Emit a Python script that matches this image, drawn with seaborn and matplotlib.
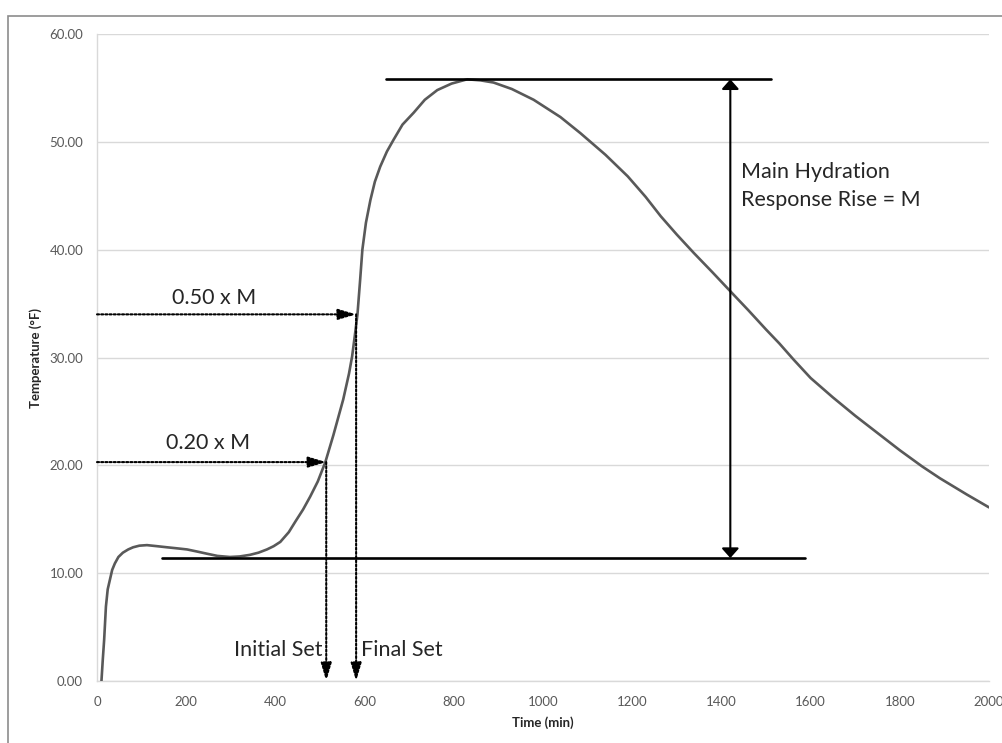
import matplotlib
matplotlib.use("Agg")
import matplotlib.pyplot as plt
from matplotlib.patches import Rectangle
import seaborn as sns
import pandas as pd

# curve
time_min = [10, 13, 16, 20, 24, 29, 34, 40, 48, 58, 70, 81, 95, 112, 135, 157,
            180, 202, 225, 247, 270, 298, 320, 343, 362, 381, 396, 411, 430,
            445, 462, 478, 495, 512, 530, 552, 565, 572, 578, 584, 590, 595,
            603, 613, 623, 635, 650, 665, 685, 710, 735, 763, 795, 830, 860,
            889, 930, 979, 1039, 1084, 1140, 1190, 1230, 1264, 1300, 1338,
            1380, 1421, 1460, 1500, 1530, 1562, 1600, 1650, 1700, 1750, 1800,
            1850, 1890, 1950, 2000]
temp_f = [0.0, 2.0, 3.8, 6.9, 8.5, 9.4, 10.3, 10.9, 11.5, 11.9, 12.2, 12.4,
          12.55, 12.6, 12.5, 12.4, 12.3, 12.2, 12.0, 11.8, 11.6, 11.5, 11.55,
          11.7, 11.9, 12.2, 12.5, 12.9, 13.8, 14.8, 15.9, 17.1, 18.5, 20.3,
          22.8, 26.1, 28.5, 30.1, 32.0, 34.0, 37.2, 40.0, 42.5, 44.6, 46.3,
          47.7, 49.1, 50.2, 51.6, 52.7, 53.9, 54.8, 55.4, 55.8, 55.7, 55.5,
          54.9, 53.9, 52.3, 50.8, 48.8, 46.8, 44.9, 43.1, 41.4, 39.7, 37.9,
          36.1, 34.4, 32.6, 31.3, 29.8, 28.1, 26.3, 24.6, 23.0, 21.4, 19.9,
          18.8, 17.3, 16.1]

# reference levels and set points
base_level = 11.4
peak_level = 55.8
base_span = (146, 1587)
peak_span = (647, 1512)
rise_arrow_t = 1420
initial_set = (514, 20.3)
final_set = (581, 34.0)

x_ticks = list(range(0, 2001, 200))
y_ticks = [0, 10, 20, 30, 40, 50, 60]
y_tick_labels = ["0.00", "10.00", "20.00", "30.00", "40.00", "50.00", "60.00"]

sns.set_style("white")
plt.rcParams["font.family"] = ["Lato", "DejaVu Sans"]

fig = plt.figure(figsize=(10.03, 7.43), dpi=100)
ax = fig.add_axes([97 / 1003, 1 - 681 / 743, (989 - 97) / 1003, (681 - 34) / 743])

df = pd.DataFrame({"Time": time_min, "Temp": temp_f})
sns.lineplot(data=df, x="Time", y="Temp", ax=ax, color="#595959", lw=1.9,
             sort=False, zorder=3)

# grid and axes styling
ax.set_xlim(0, 2000)
ax.set_ylim(0, 60)
ax.set_xticks(x_ticks)
ax.set_xticklabels([str(t) for t in x_ticks])
ax.set_yticks(y_ticks)
ax.set_yticklabels(y_tick_labels)
ax.yaxis.grid(True, color="#d9d9d9", lw=1.0)
ax.xaxis.grid(False)
for side in ["top", "right"]:
    ax.spines[side].set_visible(False)
for side in ["left", "bottom"]:
    ax.spines[side].set_color("#d9d9d9")
    ax.spines[side].set_linewidth(1.0)
ax.tick_params(axis="both", length=0, labelsize=9.5, colors="#595959")
ax.tick_params(axis="x", pad=11)
ax.tick_params(axis="y", pad=10)
ax.set_xlabel("Time (min)", fontsize=9.5, fontweight="bold", color="#262626", labelpad=6)
ax.set_ylabel("Temperature (°F)", fontsize=9.5, fontweight="bold", color="#262626", labelpad=5)

# main hydration response rise
ax.plot(base_span, [base_level, base_level], color="black", lw=1.9, zorder=4)
ax.plot(peak_span, [peak_level, peak_level], color="black", lw=1.9, zorder=4)
ax.annotate("", xy=(rise_arrow_t, peak_level), xytext=(rise_arrow_t, base_level),
            arrowprops=dict(arrowstyle="<|-|>,head_length=0.45,head_width=0.4",
                            color="black", lw=1.5, mutation_scale=13,
                            shrinkA=0, shrinkB=0), zorder=4)
ax.text(1445, 47.2, "Main Hydration", fontsize=15.5, color="#262626", va="center")
ax.text(1445, 44.6, "Response Rise = M", fontsize=15.5, color="#262626", va="center")

# dotted guide arrows for the set points
dot = dict(arrowstyle="-|>,head_length=0.6,head_width=0.18", color="black",
           lw=1.5, linestyle=(0, (1, 1)), mutation_scale=18, shrinkA=0, shrinkB=0)
for t, v in [initial_set, final_set]:
    ax.annotate("", xy=(t, v), xytext=(0, v), arrowprops=dot, zorder=5)
    ax.annotate("", xy=(t, 0), xytext=(t, v), arrowprops=dot, zorder=5)

ax.text(263, 35.5, "0.50 x M", fontsize=15.5, color="#262626", ha="center", va="center")
ax.text(248, 22.1, "0.20 x M", fontsize=15.5, color="#262626", ha="center", va="center")
ax.text(initial_set[0] - 8, 2.9, "Initial Set", fontsize=15.5, color="#262626",
        ha="right", va="center")
ax.text(final_set[0] + 10, 2.9, "Final Set", fontsize=15.5, color="#262626",
        ha="left", va="center")

# chart border
fig.patches.append(Rectangle((8 / 1003, -0.1), 1.2, 1.1 - 16 / 743,
                             transform=fig.transFigure, fill=False,
                             ec="#8c8c8c", lw=1.2))

fig.savefig("out.png", dpi=100)
